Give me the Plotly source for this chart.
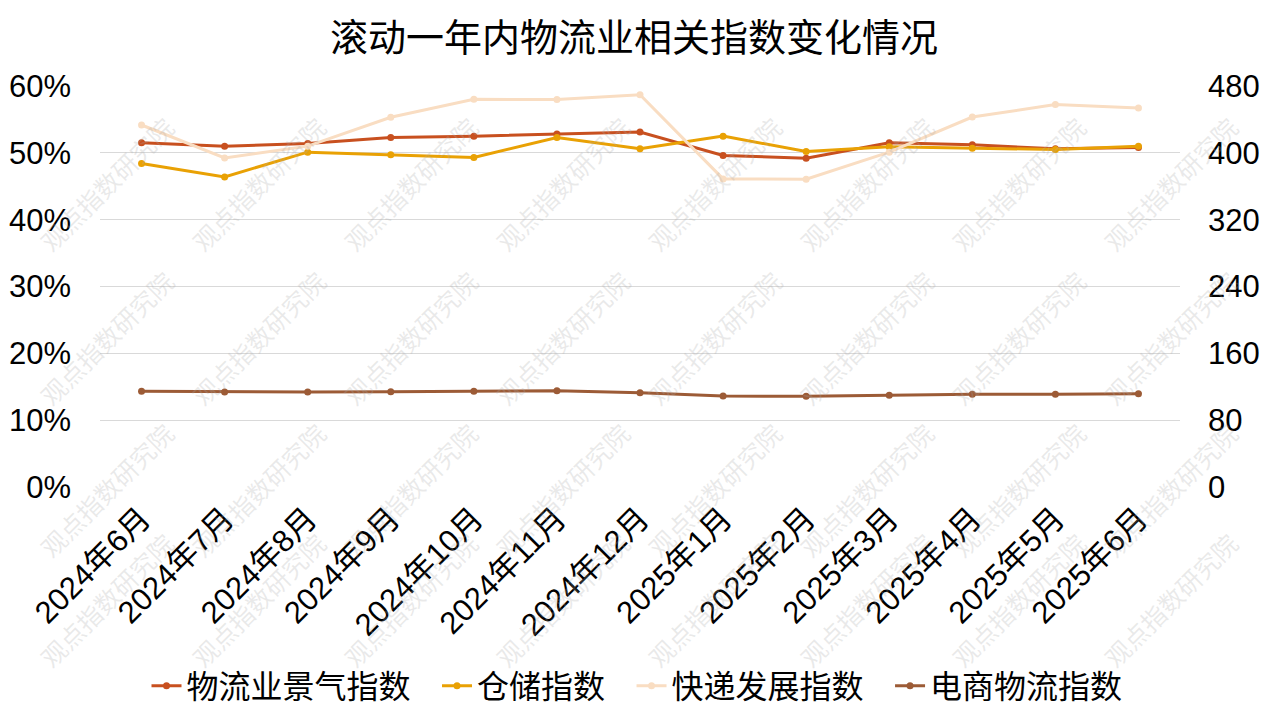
import plotly.graph_objects as go

months = ["2024年6月", "2024年7月", "2024年8月", "2024年9月", "2024年10月", "2024年11月",
          "2024年12月", "2025年1月", "2025年2月", "2025年3月", "2025年4月", "2025年5月", "2025年6月"]

# left axis (%)
logistics_pmi = [51.5, 51.0, 51.4, 52.3, 52.5, 52.8, 53.1, 49.6, 49.2, 51.5, 51.2, 50.6, 50.8]
warehouse_idx = [48.4, 46.4, 50.1, 49.7, 49.3, 52.3, 50.6, 52.5, 50.2, 50.9, 50.7, 50.5, 51.0]
# right axis
express_idx = [433.3, 393.8, 408.0, 442.6, 464.0, 463.8, 469.5, 368.8, 368.5, 400.8, 442.8, 457.8, 453.6]
ecommerce_idx = [114.5, 113.8, 113.8, 113.9, 114.5, 115.2, 112.8, 108.9, 108.6, 109.7, 110.9, 111.1, 111.7]

left_ticks = [0, 10, 20, 30, 40, 50, 60]
right_ticks = [0, 80, 160, 240, 320, 400, 480]

names = ["物流业景气指数", "仓储指数", "快递发展指数", "电商物流指数"]
colors = ["#C8501F", "#E9A104", "#F9DDC2", "#9C5B36"]

tick_font = dict(family="Liberation Sans, Arial, Noto Sans CJK SC", size=31, color="#000000")
cjk = "Noto Sans CJK SC"

# page offset (body margin) compensation
OFF = 8
W, H = 1269 - OFF, 715 - OFF
L, R, T, B = 100 - OFF, 89, 86 - OFF, 228
plot_w = W - L - R
plot_h = H - T - B

fig = go.Figure()
series = [(logistics_pmi, "y"), (warehouse_idx, "y"), (express_idx, "y2"), (ecommerce_idx, "y2")]
for i, ((vals, ax), name, col) in enumerate(zip(series, names, colors)):
    label = name + ("\u00a0\u00a0\u00a0" if i < 3 else "")
    fig.add_trace(go.Scatter(
        x=months, y=vals, name=label, yaxis=ax, mode="lines+markers",
        line=dict(color=col, width=3), marker=dict(color=col, size=7, symbol="circle"),
    ))

# watermark (page pixel positions -> paper coords)
wm_x = [106 + 152 * k for k in range(8)]
wm_y = [184, 338, 490, 600]
for yy in wm_y:
    for xx in wm_x:
        fig.add_annotation(
            x=(xx - OFF - L) / plot_w, y=(H - B - (yy - OFF)) / plot_h,
            xref="paper", yref="paper", xanchor="center", yanchor="middle",
            text="观点指数研究院", showarrow=False, textangle=-45,
            font=dict(family=cjk, size=25, color="rgba(170,170,170,0.25)"),
        )

fig.update_layout(
    width=W, height=H,
    margin=dict(l=L, r=R, t=T, b=B, autoexpand=False),
    paper_bgcolor="white", plot_bgcolor="white",
    title=dict(text="滚动一年内物流业相关指数变化情况", x=(634 - OFF) / W, xanchor="center",
               y=1 - (38 - OFF) / H, yref="container", yanchor="middle",
               font=dict(family=cjk, size=38, color="#000000")),
    showlegend=True,
    legend=dict(orientation="h", x=(637 - OFF - L) / plot_w, xanchor="center",
                y=(H - B - (686 - OFF)) / plot_h, yanchor="middle",
                font=dict(family=cjk, size=32, color="#000000"), itemwidth=30,
                bgcolor="rgba(0,0,0,0)", traceorder="normal"),
    xaxis=dict(type="category", categoryorder="array", categoryarray=months,
               range=[-0.5, 12.5], tickangle=-45, tickfont=tick_font,
               showgrid=False, showline=False, zeroline=False, ticks="",
               ticklabelstandoff=6, automargin=False),
    yaxis=dict(range=[0, 60], tickvals=left_ticks, ticktext=[f"{v}%" for v in left_ticks],
               tickfont=tick_font, showgrid=True, gridcolor="#D9D9D9", gridwidth=1,
               zeroline=False, showline=False, ticks="", ticklabelstandoff=28, automargin=False),
    yaxis2=dict(range=[0, 480], tickvals=right_ticks, ticktext=[str(v) for v in right_ticks],
                overlaying="y", side="right", tickfont=tick_font, showgrid=False,
                zeroline=False, showline=False, ticks="", ticklabelstandoff=27, automargin=False),
)

fig.write_html("out.html")
